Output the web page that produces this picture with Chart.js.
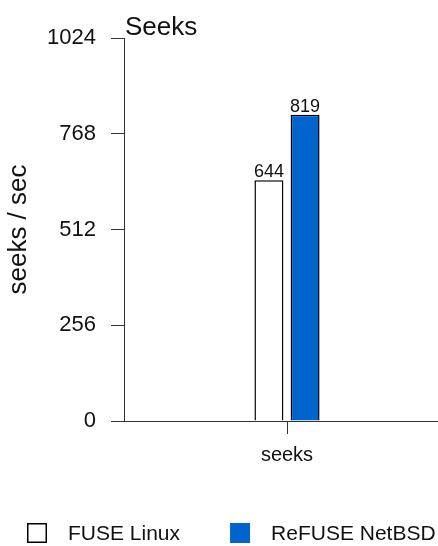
<!DOCTYPE html>
<html>
<head>
<meta charset="utf-8">
<script src="https://cdn.jsdelivr.net/npm/chart.js@4/dist/chart.umd.min.js"></script>
<style>
  html, body { margin: 0; padding: 0; background: #fff; overflow: hidden; }
  #wrap { width: 438px; height: 546px; overflow: hidden; }
</style>
</head>
<body>
<div id="wrap"><canvas id="c" width="450" height="546"></canvas></div>
<script>
// Seek throughput, one benchmark, two implementations
const categories = ['seeks'];
const fuseLinux = [644];
const refuseNetBSD = [819];
const seriesNames = ['FUSE Linux', 'ReFUSE NetBSD'];
const yTicks = [0, 256, 512, 768, 1024];
const chartTitle = 'Seeks';
const yTitle = 'seeks / sec';

const FONT = '"Liberation Sans", Arial, sans-serif';
const INK = '#111';
const AXIS = '#333';
const BLUE = '#0064cc';

// Chart title, left-aligned to the plot's left edge
const titlePlugin = {
  id: 'leftTitle',
  afterDraw(chart) {
    const { ctx, chartArea } = chart;
    ctx.save();
    ctx.font = '26px ' + FONT;
    ctx.fillStyle = INK;
    ctx.textAlign = 'left';
    ctx.textBaseline = 'alphabetic';
    ctx.fillText(chartTitle, chartArea.left + 1, chartArea.top - 3);
    ctx.restore();
  }
};

// Value printed above each bar
const valueLabels = {
  id: 'valueLabels',
  afterDatasetsDraw(chart) {
    const { ctx } = chart;
    ctx.save();
    ctx.font = '18px ' + FONT;
    ctx.fillStyle = INK;
    ctx.textAlign = 'center';
    ctx.textBaseline = 'alphabetic';
    chart.data.datasets.forEach((ds, i) => {
      chart.getDatasetMeta(i).data.forEach((el, j) => {
        ctx.fillText(String(ds.data[j]), el.x, el.y - 3);
      });
    });
    ctx.restore();
  }
};

// The baseline runs on past the y axis, under the y tick marks
const baselineExtension = {
  id: 'baselineExtension',
  afterDraw(chart) {
    const { ctx, chartArea } = chart;
    const tl = chart.options.scales.y.grid.tickLength;
    ctx.save();
    ctx.strokeStyle = AXIS;
    ctx.lineWidth = 1;
    ctx.beginPath();
    ctx.moveTo(chartArea.left - tl, Math.round(chartArea.bottom) + 0.5);
    ctx.lineTo(chartArea.left, Math.round(chartArea.bottom) + 0.5);
    ctx.stroke();
    ctx.restore();
  }
};

// Legend row along the bottom
const bottomLegend = {
  id: 'bottomLegend',
  afterDraw(chart) {
    const { ctx } = chart;
    const box = 20, gapText = 21, gapItem = 50;
    let x = 27;
    const yTop = 523;
    ctx.save();
    ctx.font = '21px ' + FONT;
    ctx.textBaseline = 'middle';
    ctx.textAlign = 'left';
    chart.data.datasets.forEach(ds => {
      ctx.fillStyle = ds.backgroundColor;
      ctx.fillRect(x, yTop, box, box);
      if (ds.backgroundColor === '#ffffff') {
        ctx.strokeStyle = '#000';
        ctx.lineWidth = 1.5;
        ctx.strokeRect(x + 0.75, yTop + 0.75, box - 1.5, box - 1.5);
      }
      ctx.fillStyle = INK;
      const tx = x + box + gapText;
      ctx.fillText(ds.label, tx, yTop + box / 2 + 1);
      x = tx + ctx.measureText(ds.label).width + gapItem;
    });
    ctx.restore();
  }
};

new Chart(document.getElementById('c'), {
  type: 'bar',
  data: {
    labels: categories,
    datasets: [
      { label: seriesNames[0], data: fuseLinux, backgroundColor: '#ffffff', borderColor: '#000', borderWidth: 1.5 },
      { label: seriesNames[1], data: refuseNetBSD, backgroundColor: BLUE, borderColor: '#000', borderWidth: 1.5 }
    ]
  },
  options: {
    responsive: false,
    animation: false,
    devicePixelRatio: 1,
    layout: { padding: { left: 0, right: 0, top: 38, bottom: 0 } },
    datasets: { bar: { categoryPercentage: 0.222, barPercentage: 0.8 } },
    plugins: { legend: { display: false }, tooltip: { enabled: false }, title: { display: false } },
    scales: {
      x: {
        grid: { offset: false, drawOnChartArea: false, drawTicks: true, tickLength: 13, color: AXIS, lineWidth: 1 },
        border: { display: true, color: AXIS, width: 1 },
        ticks: { color: INK, font: { family: FONT, size: 20 }, padding: 9, maxRotation: 0 },
        afterFit(s) { s.height = 125; }
      },
      y: {
        min: 0,
        max: 1024,
        afterBuildTicks(s) { s.ticks = yTicks.map(v => ({ value: v })); },
        grid: { drawOnChartArea: false, drawTicks: true, tickLength: 13, color: AXIS, lineWidth: 1 },
        border: { display: true, color: AXIS, width: 1 },
        ticks: { color: INK, font: { family: FONT, size: 22 }, padding: 15, callback: v => String(v) },
        title: { display: true, text: yTitle, color: INK, font: { family: FONT, size: 26 }, padding: { top: 3, bottom: 0 } },
        afterFit(s) { s.width = 124; }
      }
    }
  },
  plugins: [titlePlugin, valueLabels, baselineExtension, bottomLegend]
});
</script>
</body>
</html>
